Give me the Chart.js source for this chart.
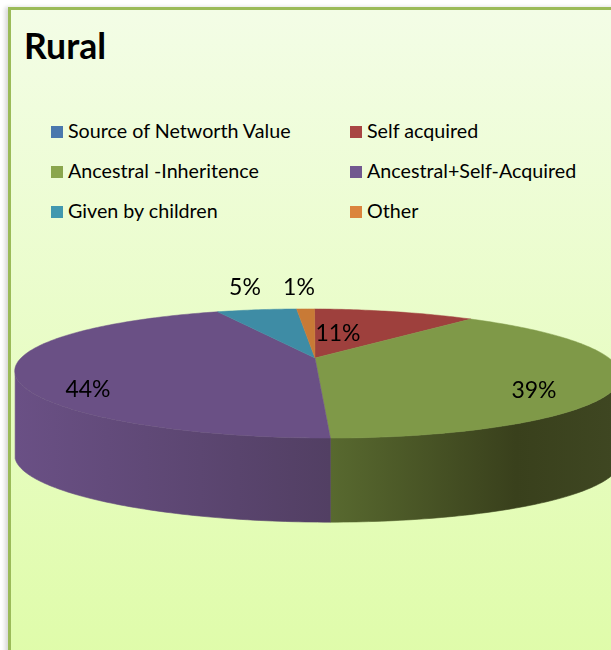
<!DOCTYPE html>
<html>
<head>
<meta charset="utf-8">
<title>Rural</title>
<script src="https://cdn.jsdelivr.net/npm/chart.js@4"></script>
<style>
    html, body { margin: 0; padding: 0; background: #fff; overflow: hidden; }
    body { width: 611px; height: 650px; position: relative; font-family: Lato, sans-serif; color: #000; }
    #panel {
        position: absolute; left: 8px; top: 7px; width: 620px; height: 660px;
        box-sizing: border-box;
        border: 3px solid #9bbb59;
        background: linear-gradient(#f3fde6, #dffca9);
        box-shadow: -3px 0 4px rgba(0, 0, 0, 0.15);
    }
    #chartTitle { position: absolute; left: 24px; top: 25px; font-size: 35.5px; font-weight: bold; line-height: 42px; }
    #legend div { position: absolute; font-size: 19.7px; line-height: 24px; white-space: nowrap; }
    #legend i { position: absolute; left: -17px; top: 7px; width: 12px; height: 12px; }
    canvas { position: absolute; left: 0; top: 0; }
</style>
</head>
<body>
<div id="panel"></div>
<div id="chartTitle">Rural</div>
<div id="legend"></div>
<canvas id="pieChart" width="611" height="660"></canvas>
<script>
// Données
const categories = ['Source of Networth Value', 'Self acquired', 'Ancestral -Inheritence', 'Ancestral+Self-Acquired', 'Given by children', 'Other'];
const shares = [0, 10.8, 38.6, 44, 5.4, 1.2];
const percentLabels = ['', '11%', '39%', '44%', '5%', '1%'];

// Couleurs
const legendColors = ['#4a78ad', '#a84643', '#8aa64d', '#71588f', '#4198af', '#db843d'];
const topColors = ['#4a78ad', '#9e403d', '#7f9948', '#6a5085', '#3e8ca5', '#c87a36'];
const wallStops = {
    2: [[0, '#58692f'], [0.64, '#39401c'], [1, '#3f4722']],
    3: [[0, '#6a5085'], [1, '#523f63']]
};

// Décalage des étiquettes par rapport au centre du camembert
const labelOffsets = [null, [23, -24], [219, 33], [-227, 32], [-70, -70], [-16, -70]];

// Perspective du disque
const TILT = 0.207;
const FAR_NEAR = 0.24;
const LEAN = 0.037;
const DEPTH = 0.286;
const ROTATION = 2;

function project(arc, angle) {
    const u = Math.cos(angle);
    const v = Math.sin(angle);
    const w = 1 - FAR_NEAR * v;
    return {
        x: arc.x + arc.outerRadius * (u + LEAN * v) / w,
        y: arc.y + arc.outerRadius * TILT * v / w,
        v: v
    };
}

function sampleArc(arc) {
    const points = [];
    const steps = Math.max(2, Math.ceil((arc.endAngle - arc.startAngle) * 60));
    for (let i = 0; i <= steps; i++) {
        points.push(project(arc, arc.startAngle + (arc.endAngle - arc.startAngle) * i / steps));
    }
    return points;
}

function drawWall(ctx, arc, index) {
    const stops = wallStops[index];
    if (!stops) return;
    // seule la partie avant du bord est visible
    const points = sampleArc(arc).filter(p => p.v >= FAR_NEAR);
    if (points.length < 2) return;
    const depth = arc.outerRadius * DEPTH;
    const xs = points.map(p => p.x);
    const gradient = ctx.createLinearGradient(Math.min(...xs), 0, Math.max(...xs), 0);
    stops.forEach(s => gradient.addColorStop(s[0], s[1]));
    ctx.beginPath();
    points.forEach((p, i) => i ? ctx.lineTo(p.x, p.y) : ctx.moveTo(p.x, p.y));
    points.slice().reverse().forEach(p => ctx.lineTo(p.x, p.y + depth));
    ctx.closePath();
    ctx.fillStyle = gradient;
    ctx.strokeStyle = gradient;
    ctx.lineWidth = 0.6;
    ctx.fill();
    ctx.stroke();
}

function drawTop(ctx, arc, color) {
    ctx.beginPath();
    ctx.moveTo(arc.x, arc.y);
    sampleArc(arc).forEach(p => ctx.lineTo(p.x, p.y));
    ctx.closePath();
    ctx.fillStyle = color;
    ctx.strokeStyle = color;
    ctx.lineWidth = 0.5;
    ctx.fill();
    ctx.stroke();
}

// Le camembert est dessiné en pseudo 3D à partir des arcs calculés par Chart.js
const pie3dPlugin = {
    id: 'pie3d',
    beforeDatasetsDraw(chart) {
        const ctx = chart.ctx;
        const arcs = chart.getDatasetMeta(0).data;
        ctx.save();
        arcs.forEach((arc, i) => { if (shares[i] > 0) drawWall(ctx, arc, i); });
        arcs.forEach((arc, i) => { if (shares[i] > 0) drawTop(ctx, arc, topColors[i]); });
        ctx.font = '23px Lato, sans-serif';
        ctx.fillStyle = '#000';
        ctx.textAlign = 'center';
        ctx.textBaseline = 'middle';
        arcs.forEach((arc, i) => {
            if (labelOffsets[i]) ctx.fillText(percentLabels[i], arc.x + labelOffsets[i][0], arc.y + labelOffsets[i][1]);
        });
        ctx.restore();
        return false;
    }
};

new Chart(document.getElementById('pieChart').getContext('2d'), {
    type: 'pie',
    data: {
        labels: categories,
        datasets: [{ data: shares, backgroundColor: topColors, borderWidth: 0 }]
    },
    options: {
        responsive: false,
        animation: false,
        rotation: ROTATION,
        layout: { padding: { left: 21, right: 2, top: 64, bottom: 8 } },
        plugins: { legend: { display: false }, tooltip: { enabled: false } }
    },
    plugins: [pie3dPlugin]
});

// Légende
const legendBox = document.getElementById('legend');
categories.forEach((name, i) => {
    const item = document.createElement('div');
    item.style.left = (i % 2 ? 367 : 68) + 'px';
    item.style.top = (119 + 40 * Math.floor(i / 2)) + 'px';
    item.innerHTML = `<i style="background:${legendColors[i]}"></i>${name}`;
    legendBox.appendChild(item);
});
</script>
</body>
</html>
